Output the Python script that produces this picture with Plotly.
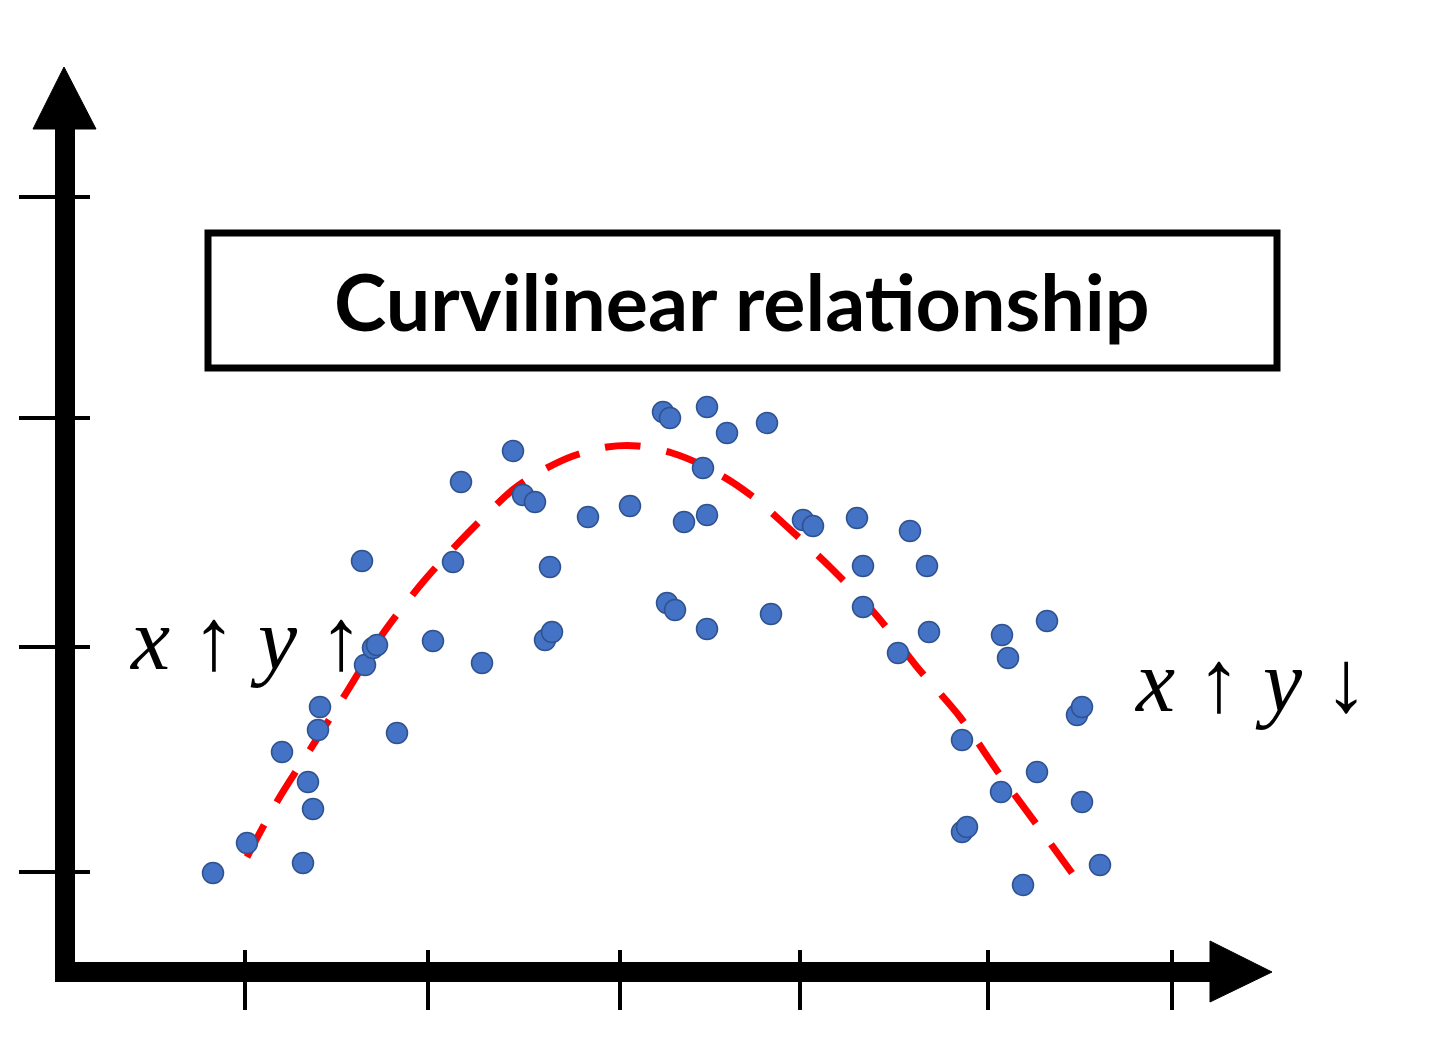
import plotly.graph_objects as go

# Scatter observations (x, y in axis units; origin at the axes' corner)
obs_x = [1.48, 1.82, 2.17, 2.38, 2.43, 2.48, 2.53, 2.55, 2.97, 3.00, 3.08, 3.12, 3.32, 3.68,
         3.88, 3.96, 4.17, 4.48, 4.58, 4.70, 4.80, 4.87, 4.85, 5.23, 5.65, 5.98, 6.05, 6.02,
         6.10, 6.19, 6.38, 6.42, 6.42, 6.42, 6.62, 7.02, 7.06, 7.38, 7.48, 7.92, 7.98, 7.98,
         8.33, 8.45, 8.62, 8.64, 8.97, 8.97, 9.02, 9.36, 9.37, 9.43, 9.58, 9.72, 9.82, 10.12,
         10.17, 10.17, 10.35]
obs_y = [0.99, 1.29, 2.20, 1.09, 1.90, 1.63, 2.42, 2.65, 4.11, 3.07, 3.24, 3.27, 2.39, 3.31,
         4.10, 4.90, 3.09, 5.21, 4.77, 4.70, 3.32, 3.40, 4.05, 4.55, 4.66, 5.60, 5.54, 3.69,
         3.62, 4.50, 5.04, 5.65, 4.57, 3.43, 5.39, 5.49, 3.58, 4.52, 4.46, 4.54, 4.06, 3.65,
         3.19, 4.41, 4.06, 3.40, 2.32, 1.40, 1.45, 1.80, 3.37, 3.14, 0.87, 2.00, 3.51, 2.57,
         2.65, 1.70, 1.07]

# Fitted curvilinear trend
fit_x = [1.82, 2.13, 2.48, 2.83, 3.17, 3.58, 4.03, 4.50, 4.80, 5.08, 5.42, 5.73, 6.07, 6.37,
         6.67, 6.92, 7.18, 7.65, 8.12, 8.52, 8.95, 9.33, 9.72, 10.07]
fit_y = [1.15, 1.72, 2.27, 2.82, 3.37, 3.90, 4.39, 4.84, 5.03, 5.16, 5.25, 5.26, 5.19, 5.07,
         4.90, 4.72, 4.49, 4.05, 3.56, 3.05, 2.55, 2.00, 1.47, 0.99]

# Tick positions along the axes
x_ticks = [1.80, 3.63, 5.55, 7.35, 9.23, 11.07]
y_ticks = [1.00, 3.25, 5.54, 7.75]

title_text = "Curvilinear relationship"
up = "<b>↑</b>"
down = "<b>↓</b>"
left_label = f"<i>x</i> {up} <i>y</i> {up}"
right_label = f"<i>x</i> {up} <i>y</i> {down}"

fig = go.Figure()

fig.add_trace(go.Scatter(
    x=fit_x, y=fit_y, mode="lines",
    line=dict(color="#FF0000", width=7, dash="36px,26px", shape="spline", smoothing=0.8),
    hoverinfo="skip", showlegend=False))

fig.add_trace(go.Scatter(
    x=obs_x, y=obs_y, mode="markers",
    marker=dict(size=21, color="#4472C4", line=dict(color="#2F528F", width=1.5)),
    showlegend=False, cliponaxis=False))

shapes = []
# axes lines
shapes.append(dict(type="line", x0=0, x1=0, y0=-0.10, y1=8.44,
                   line=dict(color="black", width=20), layer="below"))
shapes.append(dict(type="line", x0=-0.10, x1=11.47, y0=0, y1=0,
                   line=dict(color="black", width=20), layer="below"))
# arrowheads
shapes.append(dict(type="path", path="M -0.32,8.43 L 0.31,8.43 L -0.01,9.05 Z",
                   fillcolor="black", line=dict(color="black", width=1), layer="below"))
shapes.append(dict(type="path", path="M 11.45,0.31 L 11.45,-0.30 L 12.07,0 Z",
                   fillcolor="black", line=dict(color="black", width=1), layer="below"))
# ticks
for yt in y_ticks:
    shapes.append(dict(type="line", x0=-0.46, x1=0.25, y0=yt, y1=yt,
                       line=dict(color="black", width=4), layer="below"))
for xt in x_ticks:
    shapes.append(dict(type="line", x0=xt, x1=xt, y0=-0.38, y1=0.22,
                       line=dict(color="black", width=4), layer="below"))
# title box
shapes.append(dict(type="rect", x0=1.43, x1=12.12, y0=6.04, y1=7.39,
                   line=dict(color="black", width=7), fillcolor="white", layer="below"))

annotations = [
    dict(x=6.77, y=6.72, text=f"<b>{title_text}</b>", showarrow=False,
         xanchor="center", yanchor="middle",
         font=dict(family="Lato", size=79, color="black")),
    dict(x=1.81, y=3.33, text=left_label, showarrow=False,
         xanchor="center", yanchor="middle",
         font=dict(family="Liberation Serif", size=88, color="black")),
    dict(x=11.86, y=2.91, text=right_label, showarrow=False,
         xanchor="center", yanchor="middle",
         font=dict(family="Liberation Serif", size=88, color="black")),
]

fig.update_layout(
    width=1440, height=1039,
    margin=dict(l=0, r=0, t=0, b=0),
    paper_bgcolor="white", plot_bgcolor="white",
    xaxis=dict(range=[-0.65, 13.75], visible=False, fixedrange=True),
    yaxis=dict(range=[-0.67, 9.72], visible=False, fixedrange=True),
    shapes=shapes, annotations=annotations,
)

fig.write_html("out.html")
